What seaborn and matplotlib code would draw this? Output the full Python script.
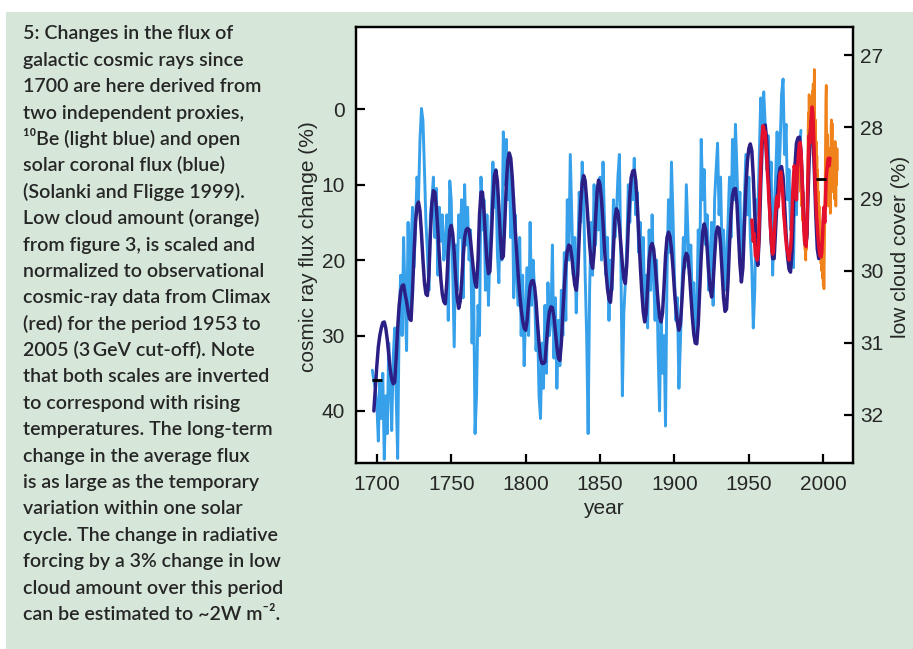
import numpy as np
import pandas as pd
import matplotlib
matplotlib.use("Agg")
import matplotlib.pyplot as plt
from matplotlib.patches import Rectangle
import seaborn as sns

# ---------------- data ----------------
LIGHT_BLUE_START = 1697
LIGHT_BLUE = [
    34.6, 36, 37,
    39, 44, 36, 41, 35, 46.4, 38, 43, 31, 36,
    42.6, 33, 29, 38, 46.3, 28, 22, 30, 17, 25,
    32, 15, 27, 18, 13, 21, 15, 9, 12, 4,
    -0.1, 1.5, 8, 15, 19, 24, 14, 12, 9, 17,
    10.5, 22, 13, 17.5, 14, 20, 18, 14, 28, 9.5,
    12, 22, 31.5, 18, 24, 14, 17, 12, 25, 10,
    18, 13, 20, 16, 31, 22, 43, 38, 26, 30,
    9, 16, 12, 24, 14, 26, 19, 14, 7, 13,
    8, 19, 23, 14, 20, 3, 10, 4, 12, 6,
    17, 10, 25, 14, 22, 26, 17, 30, 22, 34,
    27, 21, 30, 15, 26, 20, 24, 32, 28, 38,
    41, 31, 37, 26, 35, 23, 30, 28, 18, 33,
    25, 37, 28, 34, 24, 30, 19, 28, 12, 20,
    6, 14, 22, 17, 27, 20, 11, 15, 7, 12,
    22, 30, 43, 24, 15, 22, 10, 18, 12, 16,
    9, 20, 7, 15, 22, 17, 28, 20, 24, 12,
    17, 14, 9, 6, 20, 38, 27, 23, 18, 10,
    15, 9, 12, 6.5, 14, 11, 19, 15, 23, 17,
    26, 22, 29, 16, 24, 14, 22, 28, 20, 32,
    40, 27, 35, 30, 42, 22, 12, 19, 7, 14,
    22, 28, 25, 37, 31, 24, 17, 21, 10, 16,
    22, 18, 26, 23, 31, 27, 16, 21, 4, 12,
    8, 18, 14, 24, 20, 15, 26, 12, 8, 4.5,
    14, 9, 19, 16, 24, 20, 15, 9, 17, 4,
    12, 2, 8, 15, 11, 21, 18, 12, 6, 14,
    9, 17, 21, 29, 24, 12, 14, 6, -1.5, 3,
    -2.3, 2, 8, 3.5, 12, 7, 22, 14, 9, 3,
    10, 5, -2, -4, 6, 2, 12, 8, 16, 11,
    21, 8, 14, 4, 6, 2.8,
]

DARK_BLUE_START = 1698
DARK_BLUE = [
    40, 37,
    34, 31.5, 30, 29, 28.3, 28.2, 29, 30.5, 32.5, 34.5,
    35.8, 36.4, 36.2, 33, 29, 26, 24.2, 23.4, 23.3, 24.5,
    25.5, 26.8, 27.8, 28, 24, 19, 15, 12.8, 12.3, 13.5,
    16.5, 20, 23, 24.5, 24.7, 22, 16.5, 12.5, 10.8, 11,
    13, 16, 19.5, 22.5, 24.5, 25.5, 25.8, 23, 19, 16,
    15.4, 16.5, 19, 22.5, 25, 26.4, 25.5, 23, 19.5, 17,
    16, 15.8, 16, 17.5, 19.5, 21.5, 23, 23.6, 20, 14,
    11, 11, 13.5, 17, 20, 21.8, 21.5, 17, 12, 8.8,
    8.1, 9.5, 13, 17, 19.8, 19.5, 15, 10, 6.8, 5.8,
    6.5, 9, 12.5, 16, 19, 22, 24.5, 26.5, 28, 29,
    29.3, 28, 25.5, 23.5, 22.8, 22.7, 23.5, 25.5, 28.5, 31,
    33, 33.7, 33.7, 33.5, 31, 28.5, 26.8, 26.2, 26.3, 27.5,
    29.5, 31.5, 33, 33.3, 31, 27, 23.5, 20.5, 18.8, 18,
    18.2, 19.5, 21.5, 23.3, 24, 22, 17, 12.5, 9.8, 8.8,
    9.5, 12, 15, 18, 20.2, 21.1, 19, 14.5, 11, 9.4,
    10, 12, 15, 18.5, 21.5, 23.8, 25.2, 25.6, 23, 18.5,
    14.5, 13.2, 13.6, 15.5, 18, 20.5, 22.5, 23.1, 20.5, 15.5,
    11.5, 9, 8.2, 8.1, 9.5, 12.5, 16.5, 20.5, 24, 26.8,
    28.2, 27, 23.5, 20, 18.2, 17.8, 18.5, 20.5, 23, 25.5,
    27.5, 28.2, 27, 23.5, 19.5, 17, 16.3, 16.8, 18.5, 21,
    24, 26.5, 28.3, 29.3, 28.5, 25.5, 22, 19.8, 19.1, 19.5,
    21.5, 24.5, 27.5, 29.8, 31, 31.1, 28.5, 24, 19.5, 16.3,
    15.2, 16, 18.5, 21.5, 23.8, 24.9, 23, 19.5, 16.5, 15.6,
    15.8, 18, 21.5, 25, 26.8, 26.5, 23, 18, 14, 11.5,
    10.6, 10.5, 12.5, 16.5, 20.5, 22.9, 21, 15.5, 10.5, 7,
    5.2, 4.6, 5.5, 9, 14, 18.5, 20.7, 17, 10, 4.5,
    2.3, 2.1, 4, 8, 13, 17.5, 19.8, 19.8, 16, 12,
    9, 7.8, 7.6, 9, 12.5, 16.5, 19.5, 21.2, 21.6, 19,
    13, 7.5, 4.5, 3.8, 3.7, 5.5, 10, 15, 18, 17,
    10, 4, 1.5, 3, 8, 14, 18.5, 19.8,
]

RED_START = 1952.0          # half-year steps
RED = [
    14.7, 16, 17.5, 16.5, 18, 19.5, 19, 20, 19.5, 18,
    14, 10.5, 7.5, 5, 3.5, 2.2, 2.5, 3.5, 3, 5,
    6.5, 8.5, 10, 12, 13.5, 15.5, 17, 18.5, 19.2, 18.8,
    17, 15, 13.5, 12, 11.5, 13, 12, 10, 8.5, 8.3,
    9.5, 10.5, 12, 14, 15, 16.5, 17.5, 18.5, 18.8, 19.5,
    20, 19, 18.5, 17, 14, 11, 9, 7.5, 8, 10,
    12, 9, 7, 5.5, 4.5, 4.4, 5.5, 7.5, 10.5, 13.5,
    16, 17.5, 18, 18.2, 16, 11, 6.5, 3.5, 4.5, 2.5,
    1, -0.3, 0.5, 3, 6.5, 9.5, 12, 14, 15.5, 17,
    18, 19, 19.5, 19.6, 19, 17, 14.5, 13, 15, 12,
    9, 8, 7, 6.5, 7.5, 6.5,
]

ORANGE_START = 1984.0       # quarter-year steps, right axis (low cloud %)
ORANGE = [
    28.2, 28.5, 28.3, 28.9, 28.4, 28.8, 29.1, 28.6, 29.0, 29.3,
    28.9, 29.4, 29.2, 29.6, 29.3, 29.7, 29.5, 29.85, 29.4, 29.7,
    29.3, 29.5, 28.9, 28.2, 27.8, 28.3, 27.55, 28.0, 28.4, 27.9,
    28.2, 27.7, 28.1, 27.6, 27.9, 27.5, 27.8, 27.4, 27.9, 27.6,
    27.2, 27.8, 28.3, 27.9, 28.5, 28.2, 28.8, 28.4, 29.0, 28.6,
    29.2, 28.9, 29.4, 29.1, 29.6, 29.3, 29.7, 29.5, 29.9, 29.6,
    30.0, 29.7, 30.1, 29.8, 30.2, 29.9, 30.25, 29.8, 29.4, 28.8,
    28.2, 27.6, 27.42, 28.0, 28.6, 28.1, 28.9, 28.4, 29.1, 28.6,
    28.3, 28.9, 28.5, 29.2, 28.7, 28.0, 27.9, 28.3, 27.95, 28.5,
    28.9, 28.4, 28.8, 28.3, 29.0, 28.6, 28.2, 28.7, 29.1, 28.5,
    28.8, 28.3, 28.6,
]

MARK_YEARS = [1700.2, 1998.8]
MARK_VALUES = [35.9, 9.3]

X_TICKS = [1700, 1750, 1800, 1850, 1900, 1950, 2000]
LEFT_TICKS = [0, 10, 20, 30, 40]
RIGHT_TICKS = [27, 28, 29, 30, 31, 32]

CAPTION = [
    "5: Changes in the flux of",
    "galactic cosmic rays since",
    "1700 are here derived from",
    "two independent proxies,",
    "\u00b9\u2070Be (light blue) and open",
    "solar coronal flux (blue)",
    "(Solanki and Fligge 1999).",
    "Low cloud amount (orange)",
    "from figure 3, is scaled and",
    "normalized to observational",
    "cosmic-ray data from Climax",
    "(red) for the period 1953 to",
    "2005 (3\u2009GeV cut-off). Note",
    "that both scales are inverted",
    "to correspond with rising",
    "temperatures. The long-term",
    "change in the average flux",
    "is as large as the temporary",
    "variation within one solar",
    "cycle. The change in radiative",
    "forcing by a 3% change in low",
    "cloud amount over this period",
    "can be estimated to ~2W m\u207b\u00b2.",
]

# ---------------- style ----------------
GREEN = "#d6e7da"
C_LIGHT = "#36a0ea"
C_DARK = "#2b1f86"
C_RED = "#e5102c"
C_ORANGE = "#f0821c"
TEXT = "#262626"

sns.set_style("ticks")
AXFONT = ["Liberation Sans Narrow", "Liberation Sans", "DejaVu Sans"]
plt.rcParams["font.family"] = AXFONT

W, H = 913, 649
fig = plt.figure(figsize=(W / 100, H / 100), dpi=100, facecolor="white")
fig.add_artist(Rectangle((6 / W, 0), 1, 1 - 12 / H, transform=fig.transFigure,
                         facecolor=GREEN, edgecolor="none", zorder=-10))

L, R, T, B = 356, 853, 27, 463
ax = fig.add_axes([L / W, 1 - B / H, (R - L) / W, (B - T) / H])
ax2 = ax.twinx()
ax.set_zorder(2)
ax2.set_zorder(1)
ax.patch.set_visible(False)
ax2.patch.set_visible(True)
ax2.patch.set_facecolor("white")

lb_years = LIGHT_BLUE_START + np.arange(len(LIGHT_BLUE))
db_years = DARK_BLUE_START + np.arange(len(DARK_BLUE))
red_years = RED_START + 0.5 * np.arange(len(RED))
or_years = ORANGE_START + 0.25 * np.arange(len(ORANGE))

sns.lineplot(x=lb_years, y=LIGHT_BLUE, ax=ax, color=C_LIGHT, linewidth=2.1, errorbar=None)
sns.lineplot(x=db_years, y=DARK_BLUE, ax=ax, color=C_DARK, linewidth=2.5, errorbar=None)
sns.lineplot(x=red_years, y=RED, ax=ax, color=C_RED, linewidth=2.5, errorbar=None)
sns.lineplot(x=or_years, y=ORANGE, ax=ax2, color=C_ORANGE, linewidth=1.9, errorbar=None)
ax.plot(MARK_YEARS, MARK_VALUES, linestyle="none", marker="_", color="black",
        markersize=7, markeredgewidth=2, zorder=5)

ax.set_xlim(1686, 2020)
ax.set_ylim(46.9, -10.9)
ax2.set_ylim(32.67, 26.61)
ax.set_xticks(X_TICKS)
ax.set_yticks(LEFT_TICKS)
ax2.set_yticks(RIGHT_TICKS)

for a in (ax, ax2):
    for s in a.spines.values():
        s.set_linewidth(1.6)
        s.set_color("black")
        s.set_visible(True)
ax.tick_params(axis="both", direction="in", length=6.5, width=1.6,
               labelsize=15, colors="black", labelcolor=TEXT, top=False, right=False)
ax.tick_params(axis="y", pad=8)
ax.tick_params(axis="x", pad=9)
ax2.tick_params(axis="y", direction="in", length=6.5, width=1.6,
                labelsize=15, colors="black", labelcolor=TEXT, pad=5)

fig.text(308 / W, 1 - 247 / H, "cosmic ray flux change (%)", rotation=90,
         ha="center", va="center", fontsize=15, color=TEXT)
fig.text(603 / W, 1 - 508 / H, "year", ha="center", va="center",
         fontsize=15, color=TEXT)
fig.text(900 / W, 1 - 247 / H, "low cloud cover (%)", rotation=90,
         ha="center", va="center", fontsize=15, color=TEXT)

CAPFONT = ["Lato", "DejaVu Sans"]
for i, line in enumerate(CAPTION):
    yb = 39.3 + i * 26.4
    fig.text(22.5 / W, 1 - yb / H, line, ha="left", va="baseline",
             fontsize=14.1, fontweight="semibold", family=CAPFONT, color=TEXT)

fig.savefig("out.png", dpi=100, facecolor="white")
